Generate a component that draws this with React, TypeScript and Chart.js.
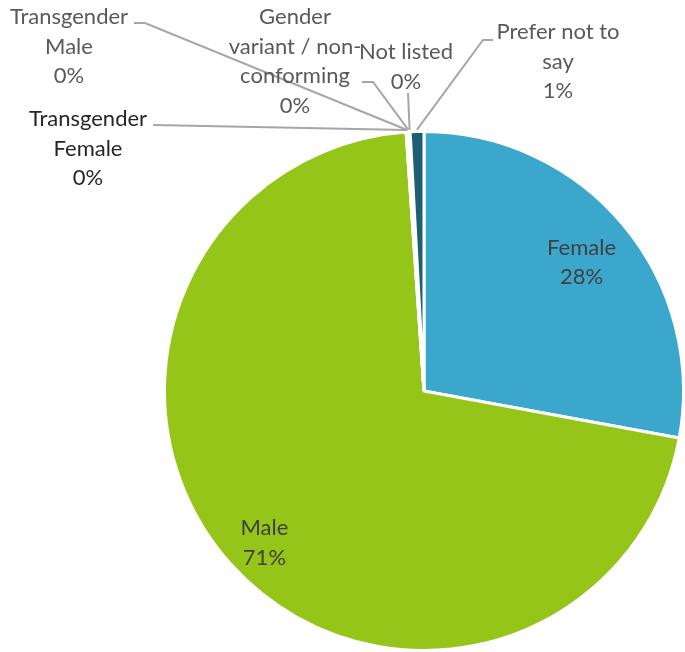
import React, { useEffect, useRef } from "react";
import { Chart, registerables } from "chart.js";

Chart.register(...registerables);

const categories = [
  "Female",
  "Male",
  "Transgender Female",
  "Transgender Male",
  "Gender variant / non-conforming",
  "Not listed",
  "Prefer not to say",
];
const values = [27.9, 71.0, 0.05, 0.05, 0.1, 0.05, 0.85];
const percentLabels = ["28%", "71%", "0%", "0%", "0%", "0%", "1%"];
const labelLines = [
  ["Female"],
  ["Male"],
  ["Transgender", "Female"],
  ["Transgender", "Male"],
  ["Gender", "variant / non-", "conforming"],
  ["Not listed"],
  ["Prefer not to", "say"],
];
const sliceColors = ["#3BA7CC", "#96C51A", "#F2F2F2", "#F2F2F2", "#F2F2F2", "#F2F2F2", "#1E5F74"];

// label layout (styling only)
const FONT = "22px Lato";
const LINE_H = 29.5;
const insideLayout: Record<number, { f: number; dx: number; dy: number; color: string }> = {
  0: { f: 0.78, dx: 2, dy: 1, color: "#404040" },
  1: { f: 0.845, dx: 4, dy: 6, color: "#404040" },
};
const outsideLayout: Record<number, { x: number; y: number; color: string; leader: number[][] }> = {
  2: { x: 88, y: 119, color: "#262626", leader: [[153, 125]] },
  3: { x: 69, y: 17, color: "#595959", leader: [[134, 23], [145, 23]] },
  4: { x: 295, y: 17, color: "#595959", leader: [[362, 82], [373, 82]] },
  5: { x: 406, y: 52, color: "#595959", leader: [[408, 93]] },
  6: { x: 558, y: 32, color: "#595959", leader: [[493, 40], [483, 40]] },
};

const labelPlugin = {
  id: "pieLabels",
  afterDatasetsDraw(chart: any) {
    const ctx = chart.ctx;
    const meta = chart.getDatasetMeta(0);
    ctx.save();
    ctx.font = FONT;
    ctx.textAlign = "center";
    ctx.textBaseline = "middle";
    meta.data.forEach((arc: any, i: number) => {
      const { x, y, startAngle, endAngle, outerRadius } = arc.getProps(
        ["x", "y", "startAngle", "endAngle", "outerRadius"],
        true
      );
      const mid = (startAngle + endAngle) / 2;
      const lines = [...labelLines[i], percentLabels[i]];
      if (insideLayout[i]) {
        const L = insideLayout[i];
        const cx = x + Math.cos(mid) * outerRadius * L.f + L.dx;
        const cy = y + Math.sin(mid) * outerRadius * L.f + L.dy;
        ctx.fillStyle = L.color;
        const y0 = cy - ((lines.length - 1) * LINE_H) / 2;
        lines.forEach((t, k) => ctx.fillText(t, cx, y0 + k * LINE_H));
      } else if (outsideLayout[i]) {
        const L = outsideLayout[i];
        const ax = x + Math.cos(mid) * (outerRadius + 2);
        const ay = y + Math.sin(mid) * (outerRadius + 2);
        ctx.strokeStyle = "#A6A6A6";
        ctx.lineWidth = 2;
        ctx.beginPath();
        L.leader.forEach((p, k) => (k === 0 ? ctx.moveTo(p[0], p[1]) : ctx.lineTo(p[0], p[1])));
        ctx.lineTo(ax, ay);
        ctx.stroke();
        ctx.fillStyle = L.color;
        lines.forEach((t, k) => ctx.fillText(t, L.x, L.y + k * LINE_H));
      }
    });
    ctx.restore();
  },
};

export default function App() {
  const ref = useRef<HTMLCanvasElement>(null);
  useEffect(() => {
    if (!ref.current) return;
    const chart = new Chart(ref.current, {
      type: "pie",
      data: {
        labels: categories,
        datasets: [
          {
            data: values,
            backgroundColor: sliceColors,
            borderColor: "#FFFFFF",
            borderWidth: 3,
          },
        ],
      },
      options: {
        responsive: false,
        animation: false,
        devicePixelRatio: 1,
        layout: { padding: { left: 163, top: 130, right: 0, bottom: 0 } },
        plugins: {
          legend: { display: false },
          tooltip: { enabled: false },
          title: { display: false },
        },
      },
      plugins: [labelPlugin],
    });
    return () => chart.destroy();
  }, []);
  return (
    <div style={{ position: "absolute", left: 0, top: 0, width: 685, height: 652, background: "#fff" }}>
      <canvas ref={ref} width={685} height={652} />
    </div>
  );
}
